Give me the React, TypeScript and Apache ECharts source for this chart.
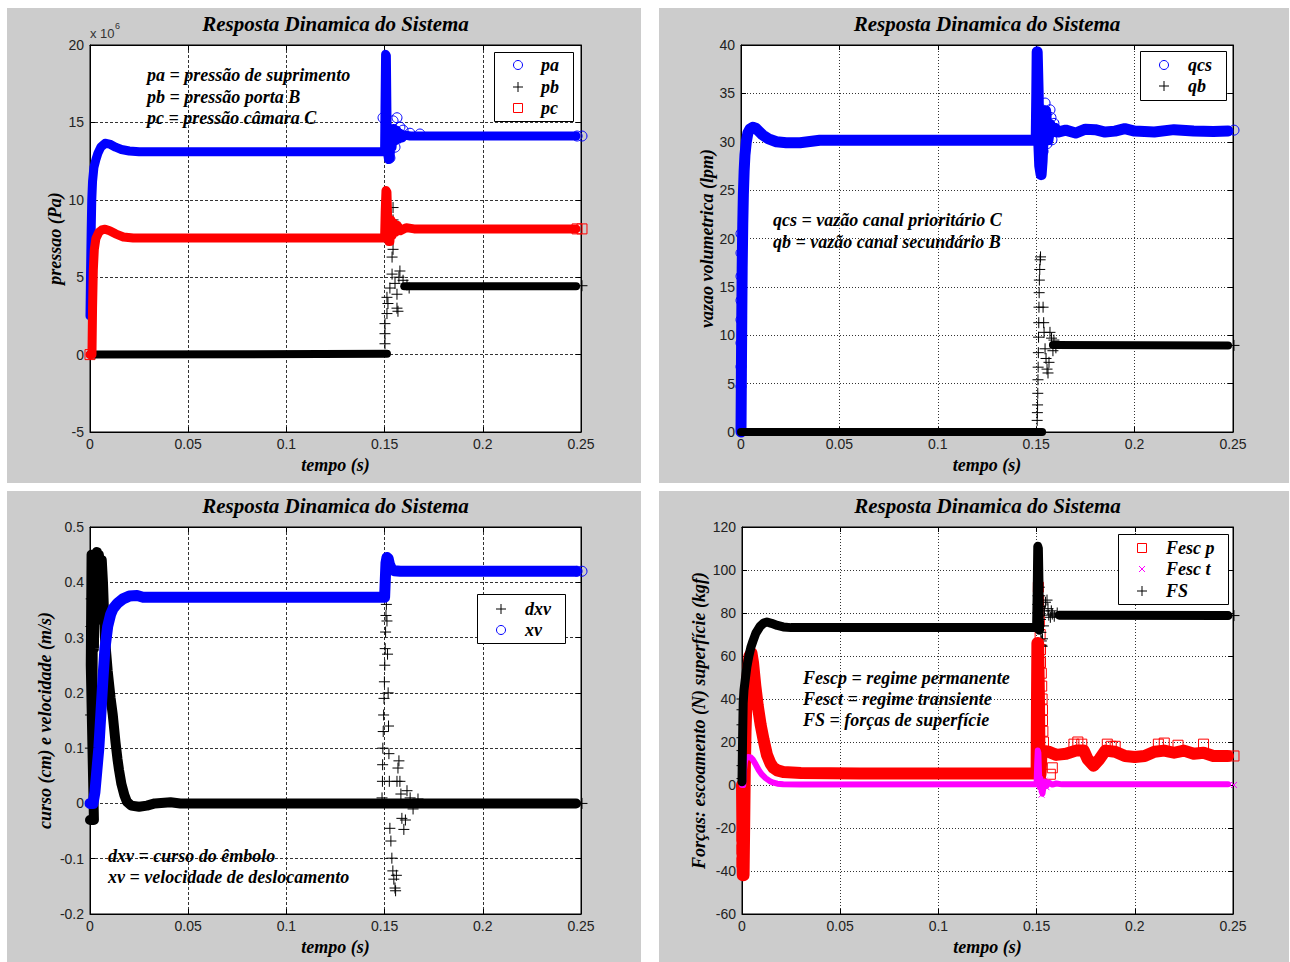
import React, { useEffect, useRef } from 'react';
import * as echarts from 'echarts';

type Pt = [number, number];

// ---------- common tick labels ----------
const timeTicks = [0, 0.05, 0.1, 0.15, 0.2, 0.25];

// ---------- Panel 1: pressures (x 10^6 Pa) ----------
const paBand: Pt[] = [[0,2.5],[0.0003,5.5],[0.0006,8.0],[0.0009,10.0],[0.0013,11.2],[0.002,12.1],[0.003,12.6],[0.004,13.0],[0.0055,13.4],[0.0077,13.65],[0.010,13.6],[0.013,13.4],[0.016,13.25],[0.020,13.15],[0.025,13.1],[0.150,13.1],[0.1502,16.0],[0.1505,19.4],[0.1509,19.3],[0.1512,15.5],[0.1515,13.0],[0.1520,12.6],[0.1524,14.6],[0.1528,12.7],[0.1533,14.2],[0.1538,13.4],[0.1545,14.6],[0.1553,13.8],[0.1562,14.5],[0.1570,13.9],[0.1580,14.3],[0.1590,14.0],[0.160,14.2],[0.163,14.12],[0.2475,14.12]];
const paPoints: Pt[] = [[0.1492,15.3],[0.1512,14.3],[0.1527,12.7],[0.1538,13.8],[0.1543,15.1],[0.1553,13.4],[0.1563,15.3],[0.1578,14.7],[0.1594,14.5],[0.1629,14.3],[0.168,14.25],[0.248,14.12],[0.2505,14.12]];
const pbBand0: Pt[] = [[0,0],[0.1512,0.05]];
const pbBand1: Pt[] = [[0.160,4.42],[0.2475,4.42]];
const pbPoints: Pt[] = [[0.1502,0.7],[0.1502,1.35],[0.1502,2.0],[0.1512,2.65],[0.1517,3.3],[0.1512,3.7],[0.1527,4.3],[0.1538,5.2],[0.1538,6.3],[0.1543,6.8],[0.1543,8.0],[0.1543,8.7],[0.1543,9.5],[0.1553,4.6],[0.1563,3.9],[0.1563,3.0],[0.1568,2.8],[0.1573,5.0],[0.1578,5.4],[0.1594,4.8],[0.1614,4.5],[0.1625,4.3],[0.2505,4.45]];
const pcBand: Pt[] = [[0,0],[0.001,0],[0.0013,3],[0.0017,5.5],[0.0022,6.8],[0.003,7.5],[0.0045,7.9],[0.006,8.05],[0.0077,8.1],[0.010,8.0],[0.013,7.8],[0.017,7.6],[0.022,7.53],[0.150,7.53],[0.1503,9.2],[0.1507,10.6],[0.1512,10.5],[0.1516,8.6],[0.1522,7.3],[0.1527,7.3],[0.1532,8.7],[0.1538,7.7],[0.1545,8.5],[0.1555,7.9],[0.1565,8.35],[0.158,8.0],[0.161,8.2],[0.165,8.12],[0.2475,8.12]];
const pcPoints: Pt[] = [[0,0],[0.248,8.12],[0.2505,8.12]];

// ---------- Panel 2: flows (lpm) ----------
const qcsBand: Pt[] = [[0,0],[0.0002,6],[0.0004,12],[0.0006,17],[0.0009,21.5],[0.0012,24.5],[0.0016,27],[0.002,28.6],[0.0027,30.0],[0.0035,30.9],[0.0045,31.3],[0.006,31.5],[0.0075,31.4],[0.009,31.1],[0.011,30.7],[0.014,30.3],[0.018,30.0],[0.023,29.9],[0.030,29.9],[0.036,30.05],[0.040,30.15],[0.150,30.15],[0.1503,35],[0.1505,39.3],[0.1508,39.3],[0.151,35],[0.1513,30],[0.1518,27.5],[0.1525,26.6],[0.153,28],[0.1535,30.5],[0.154,32.5],[0.1548,33.2],[0.1555,31],[0.156,30.2],[0.157,31.8],[0.158,31.0],[0.1595,31.4],[0.161,31.0],[0.165,31.2],[0.17,30.9],[0.175,31.3],[0.18,31.25],[0.185,31.0],[0.19,31.1],[0.195,31.35],[0.2,31.1],[0.21,31.0],[0.22,31.25],[0.23,31.1],[0.24,31.05],[0.2475,31.1]];
const qcsPoints: Pt[] = [[0,4.7],[0,6.75],[0,9.2],[0,11.6],[0,13.6],[0,16.1],[0,18.5],[0,20.5],[0.1515,31.5],[0.152,32.5],[0.1525,30.0],[0.153,33.3],[0.1535,29.0],[0.154,31.2],[0.1545,34.0],[0.155,32.8],[0.1555,29.8],[0.157,33.3],[0.1575,32.5],[0.158,30.2],[0.159,31.9],[0.2505,31.2]];
const qbBand0: Pt[] = [[0,0],[0.153,0]];
const qbBand1: Pt[] = [[0.1585,9.0],[0.2475,8.95]];
const qbPoints: Pt[] = [[0.1505,1.2],[0.1506,2.0],[0.1507,2.8],[0.1508,4.0],[0.1509,5.4],[0.151,6.7],[0.1511,8.2],[0.1512,9.8],[0.1513,11.3],[0.1514,12.9],[0.1515,14.4],[0.1516,15.7],[0.1518,16.8],[0.152,17.8],[0.1522,18.1],[0.1535,12.9],[0.1538,11.3],[0.154,10.3],[0.1545,8.6],[0.155,7.6],[0.1555,6.5],[0.156,6.1],[0.1565,7.2],[0.157,10.3],[0.1578,9.7],[0.1585,8.4],[0.159,9.5],[0.16,8.7],[0.2505,8.95]];

// ---------- Panel 3: stroke / velocity ----------
const dxvBand: Pt[] = [[0,-0.03],[0.002,-0.03],[0.0004,0.25],[0.0008,0.45],[0.0012,0.15],[0.0016,0.45],[0.002,0.28],[0.0025,0.45],[0.003,0.33],[0.0035,0.455],[0.004,0.36],[0.0045,0.45],[0.0052,0.43],[0.006,0.44],[0.0066,0.40],[0.0076,0.30],[0.009,0.24],[0.0105,0.19],[0.0116,0.16],[0.013,0.11],[0.014,0.08],[0.0148,0.06],[0.016,0.035],[0.0175,0.015],[0.0188,0.003],[0.021,-0.004],[0.025,-0.006],[0.029,-0.004],[0.033,0],[0.041,0.002],[0.046,0],[0.150,0],[0.163,0],[0.2475,0]];
const dxvPoints: Pt[] = [[0.0002,0.1],[0.0003,0.16],[0.0005,0.32],[0.0006,0.37],[0.1487,0.01],[0.1489,0.04],[0.149,0.07],[0.1491,0.1],[0.1493,0.13],[0.1495,0.16],[0.1497,0.19],[0.1499,0.22],[0.1501,0.25],[0.1503,0.28],[0.1505,0.31],[0.1507,0.34],[0.1509,0.36],[0.1512,0.33],[0.1515,0.27],[0.1518,0.2],[0.152,0.14],[0.1522,0.09],[0.1524,0.04],[0.1527,-0.045],[0.1532,-0.068],[0.1537,-0.099],[0.1542,-0.122],[0.1547,-0.137],[0.1553,-0.153],[0.1556,-0.158],[0.156,-0.13],[0.1563,0.04],[0.1568,0.064],[0.1573,0.077],[0.1578,0.04],[0.1583,0.017],[0.1588,-0.027],[0.1598,-0.047],[0.1606,-0.03],[0.1614,0.023],[0.163,0.01],[0.1645,-0.01],[0.167,0.008],[0.2505,0]];
const xvBand: Pt[] = [[0,0],[0.0015,0],[0.0025,0.02],[0.0035,0.06],[0.0045,0.1],[0.0055,0.16],[0.0065,0.22],[0.0076,0.28],[0.009,0.32],[0.0105,0.342],[0.0117,0.352],[0.014,0.362],[0.0168,0.370],[0.020,0.375],[0.024,0.376],[0.027,0.373],[0.150,0.373],[0.1503,0.40],[0.1507,0.435],[0.1512,0.445],[0.1518,0.443],[0.1525,0.432],[0.1535,0.424],[0.155,0.421],[0.158,0.42],[0.2475,0.42]];
const xvPoints: Pt[] = [[0.248,0.42],[0.2505,0.42]];

// ---------- Panel 4: forces ----------
const fescpBand: Pt[] = [[0,0],[0.0002,-20],[0.0004,-42],[0.0008,-42],[0.0011,-20],[0.0014,5],[0.0018,25],[0.0023,40],[0.003,52],[0.0038,60],[0.0048,61.5],[0.0056,57],[0.0068,46],[0.008,37],[0.0095,28],[0.011,21],[0.0127,14],[0.0145,10],[0.016,8],[0.018,6.8],[0.021,6],[0.03,5.6],[0.06,5.4],[0.10,5.3],[0.150,5.3],[0.1502,40],[0.1504,66],[0.1508,66],[0.1512,40],[0.1515,10],[0.152,5],[0.1525,15],[0.153,16],[0.156,15.5],[0.16,14],[0.165,14.5],[0.17,16],[0.174,16],[0.176,12],[0.179,9],[0.182,12],[0.185,16],[0.19,15.5],[0.195,13.5],[0.2,13],[0.205,13.5],[0.21,15.5],[0.215,16],[0.22,15],[0.225,16],[0.23,14.5],[0.235,15],[0.24,13.5],[0.2475,13.5]];
const fescpPoints: Pt[] = [[0,-36],[0,-30],[0,-24],[0.1509,92],[0.151,86],[0.1512,81],[0.1514,76],[0.1518,70],[0.152,63],[0.152,57],[0.1524,52],[0.1526,46],[0.1528,40],[0.153,35],[0.153,30],[0.1532,25],[0.1535,20],[0.157,5],[0.158,8],[0.169,19],[0.171,20],[0.173,19],[0.186,19],[0.188,18],[0.19,18],[0.212,19],[0.215,19.5],[0.222,18.5],[0.235,19],[0.2505,13.5]];
const fesctBand: Pt[] = [[0,0],[0.0006,0],[0.001,7],[0.0015,11],[0.002,12.5],[0.003,13],[0.0045,12.8],[0.0055,11.8],[0.007,9.5],[0.0085,7],[0.010,5],[0.012,3.2],[0.014,1.9],[0.016,1.1],[0.018,0.6],[0.021,0.3],[0.03,0.2],[0.15,0.3],[0.1503,10],[0.1506,16],[0.1509,15],[0.1512,6],[0.1516,-1],[0.152,3],[0.1525,-2.5],[0.153,-4],[0.1535,-1],[0.154,1.5],[0.155,-0.5],[0.156,1.2],[0.158,0.2],[0.16,0.7],[0.163,0.3],[0.2475,0.3]];
const fesctPoints: Pt[] = [[0.1508,17],[0.1525,-4.5],[0.154,2],[0.155,-1],[0.2505,0]];
const fsBand0: Pt[] = [[0,1.5],[0.0003,22],[0.0006,38],[0.001,44],[0.0018,50],[0.0025,55],[0.0035,60],[0.0045,64],[0.0056,67],[0.007,70.5],[0.0092,73.8],[0.011,75.3],[0.0127,75.8],[0.015,75.2],[0.018,74.2],[0.021,73.5],[0.025,73.2],[0.150,73.2],[0.1503,90],[0.1506,111],[0.1509,110],[0.1512,95],[0.1514,72]];
const fsBand1: Pt[] = [[0.1615,79],[0.2475,78.8]];
const fsPoints: Pt[] = [[0,3],[0,9],[0,16],[0,22],[0,28],[0,35],[0,40],[0.1505,75],[0.1505,80],[0.1506,84],[0.1507,88],[0.1514,92],[0.1516,88],[0.1518,83],[0.152,77],[0.1522,71],[0.1524,67],[0.1526,65],[0.1528,64.5],[0.153,68],[0.1535,74],[0.154,81],[0.1545,85],[0.1553,86],[0.1558,82],[0.1562,79],[0.157,78],[0.1575,81],[0.158,79.5],[0.159,78.5],[0.1605,80],[0.2505,78.8]];

// ---------- styling ----------
const BLUE = '#0000ff';
const RED = '#ff0000';
const BLACK = '#000000';
const MAGENTA = '#ff00ff';
const SERIF = '"Liberation Serif", "Times New Roman", serif';
const SANS = '"Liberation Sans", Arial, sans-serif';
const SYM: Record<string, string> = {
  circle: 'circle',
  plus: 'path://M0,5L10,5M5,0L5,10',
  square: 'rect',
  cross: 'path://M0,0L10,10M0,10L10,0',
};

type SeriesSpec = { name: string; color: string; marker: string; size: number; bands: Pt[][]; width: number; points: Pt[] };
type PanelSpec = {
  grid: { left: number; top: number; width: number; height: number };
  yMin: number; yMax: number; yInt: number; yName: string; yGap: number;
  dash: number[];
  series: SeriesSpec[];
  legend: { x: number; y: number; w: number; h: number; mx: number; tx: number; rows: number[] };
  notes: { x: number; ys: number[]; lines: string[] };
};

const panels: PanelSpec[] = [
  {
    grid: { left: 90, top: 45, width: 491, height: 387 },
    yMin: -5, yMax: 20, yInt: 5, yName: 'pressao (Pa)', yGap: 26, dash: [3, 2],
    series: [
      { name: 'pa', color: BLUE, marker: 'circle', size: 10, bands: [paBand], width: 9, points: paPoints },
      { name: 'pb', color: BLACK, marker: 'plus', size: 11, bands: [pbBand0, pbBand1], width: 8, points: pbPoints },
      { name: 'pc', color: RED, marker: 'square', size: 10, bands: [pcBand], width: 9, points: pcPoints },
    ],
    legend: { x: 494, y: 52, w: 79, h: 69, mx: 518, tx: 541, rows: [65, 87, 108] },
    notes: { x: 147, ys: [75, 97, 118], lines: ['pa = pressão de suprimento', 'pb = pressão porta B', 'pc = pressão câmara C'] },
  },
  {
    grid: { left: 741, top: 45, width: 492, height: 387 },
    yMin: 0, yMax: 40, yInt: 5, yName: 'vazao volumetrica (lpm)', yGap: 24, dash: [1, 2],
    series: [
      { name: 'qcs', color: BLUE, marker: 'circle', size: 10, bands: [qcsBand], width: 11, points: qcsPoints },
      { name: 'qb', color: BLACK, marker: 'plus', size: 11, bands: [qbBand0, qbBand1], width: 8, points: qbPoints },
    ],
    legend: { x: 1140, y: 51, w: 86, h: 49, mx: 1164, tx: 1188, rows: [65, 86] },
    notes: { x: 773, ys: [220, 242], lines: ['qcs = vazão canal prioritário C', 'qb = vazão canal secundário B'] },
  },
  {
    grid: { left: 90, top: 527, width: 491, height: 387 },
    yMin: -0.2, yMax: 0.5, yInt: 0.1, yName: 'curso (cm) e velocidade (m/s)', yGap: 36, dash: [3, 2],
    series: [
      { name: 'dxv', color: BLACK, marker: 'plus', size: 11, bands: [dxvBand], width: 10, points: dxvPoints },
      { name: 'xv', color: BLUE, marker: 'circle', size: 10, bands: [xvBand], width: 11, points: xvPoints },
    ],
    legend: { x: 477, y: 594, w: 88, h: 49, mx: 501, tx: 525, rows: [609, 630] },
    notes: { x: 108, ys: [856, 877], lines: ['dxv = curso do êmbolo', 'xv = velocidade de deslocamento'] },
  },
  {
    grid: { left: 742, top: 527, width: 491, height: 387 },
    yMin: -60, yMax: 120, yInt: 20, yName: 'Forças: escoamento (N) superfície (kgf)', yGap: 34, dash: [1, 2],
    series: [
      { name: 'Fesc p', color: RED, marker: 'square', size: 10, bands: [fescpBand], width: 12, points: fescpPoints },
      { name: 'Fesc t', color: MAGENTA, marker: 'cross', size: 6, bands: [fesctBand], width: 6, points: fesctPoints },
      { name: 'FS', color: BLACK, marker: 'plus', size: 11, bands: [fsBand0, fsBand1], width: 9, points: fsPoints },
    ],
    legend: { x: 1118, y: 534, w: 110, h: 70, mx: 1142, tx: 1166, rows: [548, 569, 591] },
    notes: { x: 803, ys: [678, 699, 720], lines: ['Fescp = regime permanente', 'Fesct = regime transiente', 'FS = forças de superfície'] },
  },
];

const grayPanels = [
  { x: 7, y: 8, w: 634, h: 475 },
  { x: 659, y: 8, w: 630, h: 475 },
  { x: 7, y: 491, w: 634, h: 471 },
  { x: 659, y: 491, w: 630, h: 471 },
];

const serifText = (size: number) => ({ fontFamily: SERIF, fontWeight: 'bold', fontStyle: 'italic', fontSize: size, color: '#000' });

function legendMarker(kind: string, cx: number, cy: number, color: string): any[] {
  const z = 101;
  const st = { fill: 'none', stroke: color, lineWidth: 1 };
  if (kind === 'circle') return [{ type: 'circle', z, shape: { cx, cy, r: 4.5 }, style: st }];
  if (kind === 'square') return [{ type: 'rect', z, shape: { x: cx - 4.5, y: cy - 4.5, width: 9, height: 9 }, style: st }];
  if (kind === 'plus') return [
    { type: 'line', z, shape: { x1: cx - 5, y1: cy, x2: cx + 5, y2: cy }, style: st },
    { type: 'line', z, shape: { x1: cx, y1: cy - 5, x2: cx, y2: cy + 5 }, style: st },
  ];
  return [
    { type: 'line', z, shape: { x1: cx - 3, y1: cy - 3, x2: cx + 3, y2: cy + 3 }, style: st },
    { type: 'line', z, shape: { x1: cx - 3, y1: cy + 3, x2: cx + 3, y2: cy - 3 }, style: st },
  ];
}

function buildOption() {
  const grids: any[] = [];
  const xAxes: any[] = [];
  const yAxes: any[] = [];
  const series: any[] = [];
  const graphics: any[] = [];

  grayPanels.forEach((g) => {
    graphics.push({ type: 'rect', z: -10, silent: true, shape: { x: g.x, y: g.y, width: g.w, height: g.h }, style: { fill: '#cccccc' } });
  });

  panels.forEach((p, i) => {
    grids.push({ ...p.grid, show: true, backgroundColor: '#ffffff', borderColor: '#000', borderWidth: 1, containLabel: false });
    const axisLine = { show: true, onZero: false, lineStyle: { color: '#000', width: 1 } };
    const tick = { show: true, inside: true, length: 5, lineStyle: { color: '#000', width: 1 } };
    const split = { show: true, lineStyle: { color: '#333', width: 1, type: p.dash } };
    xAxes.push({
      type: 'value', gridIndex: i, position: 'bottom', min: timeTicks[0], max: timeTicks[timeTicks.length - 1], interval: 0.05,
      name: 'tempo (s)', nameLocation: 'middle', nameGap: 24, nameTextStyle: serifText(18),
      axisLine, axisTick: tick, splitLine: split,
      axisLabel: { margin: 5, color: '#222', fontFamily: SANS, fontSize: 14 },
    });
    xAxes.push({
      type: 'value', gridIndex: i, position: 'top', min: 0, max: 0.25, interval: 0.05,
      axisLine, axisTick: tick, splitLine: { show: false }, axisLabel: { show: false },
    });
    yAxes.push({
      type: 'value', gridIndex: i, position: 'left', min: p.yMin, max: p.yMax, interval: p.yInt,
      name: p.yName, nameLocation: 'middle', nameGap: p.yGap, nameTextStyle: serifText(18),
      axisLine, axisTick: tick, splitLine: split,
      axisLabel: { margin: 6, color: '#222', fontFamily: SANS, fontSize: 14 },
    });
    yAxes.push({
      type: 'value', gridIndex: i, position: 'right', min: p.yMin, max: p.yMax, interval: p.yInt,
      axisLine, axisTick: tick, splitLine: { show: false }, axisLabel: { show: false },
    });

    p.series.forEach((s) => {
      s.bands.forEach((band, bi) => {
        series.push({
          type: 'line', name: s.name + (bi ? ' ' : ''), xAxisIndex: 2 * i, yAxisIndex: 2 * i, data: band,
          showSymbol: false, symbol: 'none', silent: true, clip: false,
          lineStyle: { color: s.color, width: s.width, join: 'round', cap: 'round' },
        });
      });
      series.push({
        type: 'scatter', name: s.name, xAxisIndex: 2 * i, yAxisIndex: 2 * i, data: s.points,
        symbol: SYM[s.marker], symbolSize: s.size, silent: true, clip: false,
        itemStyle: { color: 'rgba(0,0,0,0)', borderColor: s.color, borderWidth: 1, opacity: 1 },
      });
    });

    // title
    graphics.push({
      type: 'text', z: 100, silent: true, x: p.grid.left + p.grid.width / 2, y: p.grid.top - 21,
      style: { text: 'Resposta Dinamica do Sistema', fill: '#000', font: `italic bold 21px ${SERIF}`, align: 'center', verticalAlign: 'middle' },
    });
    // notes
    p.notes.lines.forEach((line, k) => {
      graphics.push({
        type: 'text', z: 100, silent: true, x: p.notes.x, y: p.notes.ys[k],
        style: { text: line, fill: '#000', font: `italic bold 18px ${SERIF}`, align: 'left', verticalAlign: 'middle' },
      });
    });
    // legend box
    const L = p.legend;
    graphics.push({ type: 'rect', z: 100, silent: true, shape: { x: L.x + 0.5, y: L.y + 0.5, width: L.w, height: L.h }, style: { fill: '#fff', stroke: '#000', lineWidth: 1 } });
    p.series.forEach((s, k) => {
      legendMarker(s.marker, L.mx, L.rows[k], s.color).forEach((el) => graphics.push({ ...el, silent: true }));
      graphics.push({
        type: 'text', z: 101, silent: true, x: L.tx, y: L.rows[k],
        style: { text: s.name, fill: '#000', font: `italic bold 18px ${SERIF}`, align: 'left', verticalAlign: 'middle' },
      });
    });
  });

  // exponent label of panel 1
  graphics.push({ type: 'text', z: 100, silent: true, x: 90, y: 33, style: { text: 'x 10', fill: '#333', font: `13px ${SANS}`, align: 'left', verticalAlign: 'middle' } });
  graphics.push({ type: 'text', z: 100, silent: true, x: 115, y: 26, style: { text: '6', fill: '#333', font: `9px ${SANS}`, align: 'left', verticalAlign: 'middle' } });

  return {
    animation: false,
    backgroundColor: '#ffffff',
    textStyle: { fontFamily: SANS },
    grid: grids,
    xAxis: xAxes,
    yAxis: yAxes,
    series,
    graphic: graphics,
  };
}

export default function App() {
  const ref = useRef<HTMLDivElement>(null);
  useEffect(() => {
    if (!ref.current) return;
    const chart = echarts.init(ref.current, undefined, { renderer: 'svg' });
    chart.setOption(buildOption() as any);
    return () => chart.dispose();
  }, []);
  return <div ref={ref} style={{ position: 'absolute', left: 0, top: 0, width: 1290, height: 962 }} />;
}
